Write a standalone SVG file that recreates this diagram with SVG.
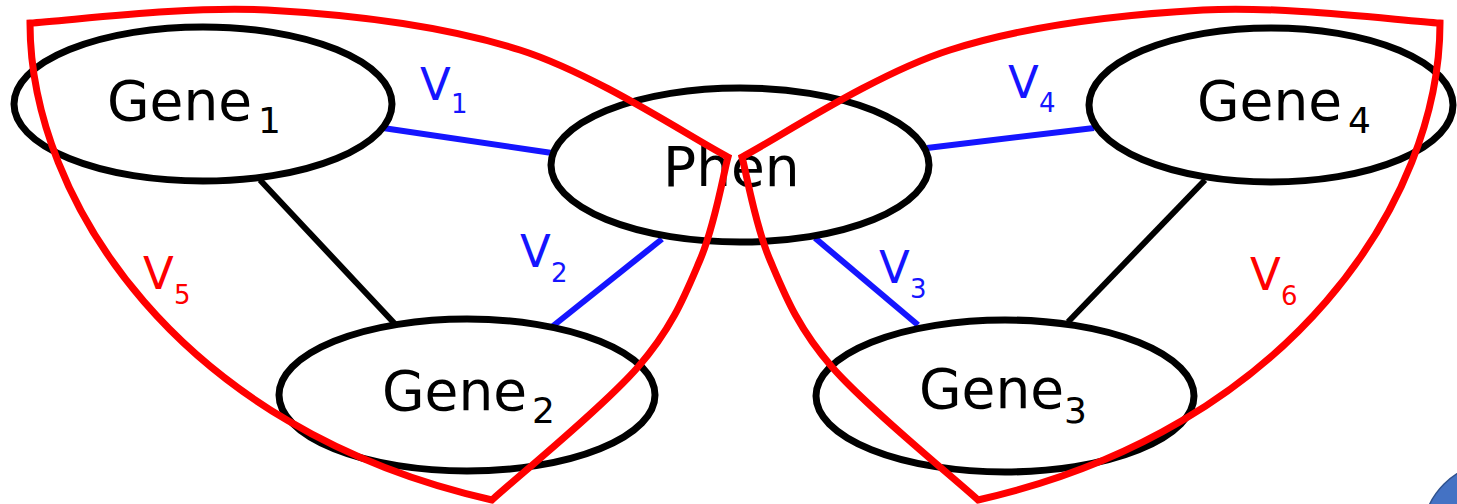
<svg xmlns="http://www.w3.org/2000/svg" width="1457" height="504" viewBox="0 0 1457 504">
<style>
.node{fill:#fff;stroke:#000;stroke-width:7}
.lbl{font-family:"DejaVu Sans",Verdana,sans-serif;fill:#000}
.big{font-size:55px}
.sub{font-size:36px}
.v{font-family:"DejaVu Sans",Verdana,sans-serif;font-size:45px}
.vs{font-family:"DejaVu Sans",Verdana,sans-serif;font-size:26px}
.blue{fill:#1515ff}
.redt{fill:#ff0000}
.eb{stroke:#1515ff;stroke-width:6;fill:none}
.ek{stroke:#000;stroke-width:6;fill:none}
.region{fill:none;stroke:#ff0000;stroke-width:7;stroke-linejoin:miter;stroke-miterlimit:20}
</style>
<rect width="1457" height="504" fill="#fff"/>
<g id="connectors">
<line class="eb" x1="383" y1="128" x2="552" y2="153"/>
<line class="eb" x1="927" y1="148" x2="1094" y2="128"/>
<line class="eb" x1="662" y1="239" x2="553" y2="326"/>
<line class="eb" x1="815" y1="238" x2="918" y2="325"/>
<line class="ek" x1="260" y1="180" x2="395" y2="324"/>
<line class="ek" x1="1205" y1="180" x2="1068" y2="322"/>
</g>
<g id="gene1">
<ellipse class="node" cx="203" cy="104" rx="189" ry="77"/>
<text class="lbl big" x="107" y="120">Gene</text><text class="lbl sub" x="258" y="133">1</text>
</g>
<g id="phen">
<ellipse class="node" cx="740" cy="165" rx="189" ry="77"/>
<text class="lbl big" x="663" y="186">Phen</text>
</g>
<g id="gene4">
<ellipse class="node" cx="1271" cy="105" rx="182" ry="77"/>
<text class="lbl big" x="1197" y="120">Gene</text><text class="lbl sub" x="1348" y="133">4</text>
</g>
<g id="gene2">
<ellipse class="node" cx="467" cy="395" rx="188" ry="76"/>
<text class="lbl big" x="382" y="410">Gene</text><text class="lbl sub" x="532" y="423">2</text>
</g>
<g id="gene3">
<ellipse class="node" cx="1005" cy="396" rx="189" ry="76"/>
<text class="lbl big" x="919" y="408">Gene</text><text class="lbl sub" x="1064" y="423">3</text>
</g>
<g id="edge-labels">
<text class="v blue" x="420" y="100">V</text><text class="vs blue" x="451" y="113">1</text>
<text class="v blue" x="520" y="267">V</text><text class="vs blue" x="551" y="282">2</text>
<text class="v blue" x="879" y="283">V</text><text class="vs blue" x="910" y="298">3</text>
<text class="v blue" x="1008" y="98">V</text><text class="vs blue" x="1039" y="112">4</text>
</g>
<g id="regions">
<path id="v5region" class="region" d="M30,23 C30,200 180,430 492,500 C516.3,477.8 603.3,407 638,367 C672.7,327 685,295 700,260 C715,225 723.3,174.2 728,157 C693.3,139.2 596.8,74.5 520,50 C443.2,25.5 348.7,14.5 267,10 C185.3,5.5 69.5,20.8 30,23 Z"/>
<path id="v6region" class="region" transform="translate(1470,0) scale(-1,1)" d="M30,23 C30,200 180,430 492,500 C516.3,477.8 603.3,407 638,367 C672.7,327 685,295 700,260 C715,225 723.3,174.2 728,157 C693.3,139.2 596.8,74.5 520,50 C443.2,25.5 348.7,14.5 267,10 C185.3,5.5 69.5,20.8 30,23 Z"/>
<text class="v redt" x="143" y="289">V</text><text class="vs redt" x="174" y="304">5</text>
<text class="v redt" x="1250" y="290">V</text><text class="vs redt" x="1281" y="305">6</text>
</g>
<circle cx="1495" cy="535" r="72" fill="#4472c4" stroke="#2f528f" stroke-width="1.5"/>
</svg>
